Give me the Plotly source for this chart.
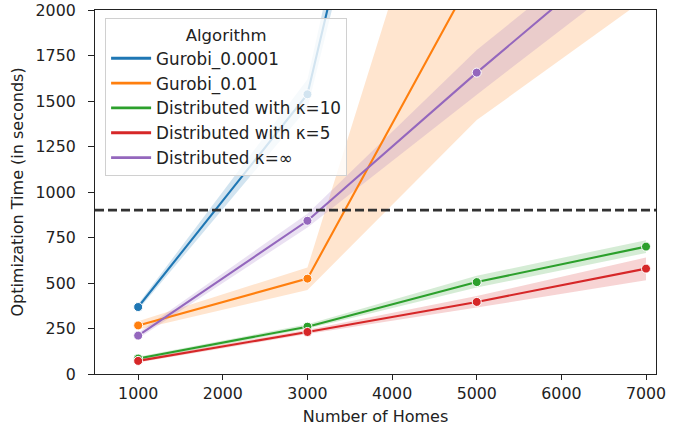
import plotly.graph_objects as go

# ---- data ----
homes = [1000, 3000, 5000, 7000]
x_ticks = [1000, 2000, 3000, 4000, 5000, 6000, 7000]
y_ticks = [0, 250, 500, 750, 1000, 1250, 1500, 1750, 2000]

series_names = ["Gurobi_0.0001", "Gurobi_0.01", "Distributed with κ=10",
                "Distributed with κ=5", "Distributed κ=∞"]

gurobi_0001_mean = [368, 1537, 5480, 9400]
gurobi_0001_lo = [352, 1460, 5200, 8900]
gurobi_0001_hi = [384, 1620, 5800, 9900]

gurobi_001_mean = [267, 524, 2225, 3800]
gurobi_001_lo = [245, 462, 1395, 2065]
gurobi_001_hi = [290, 585, 3560, 5500]

dist_k10_mean = [85, 260, 505, 700]
dist_k10_lo = [76, 248, 475, 665]
dist_k10_hi = [95, 273, 540, 735]

dist_k5_mean = [72, 231, 396, 579]
dist_k5_lo = [63, 220, 365, 515]
dist_k5_hi = [82, 243, 428, 640]

dist_kinf_mean = [211, 842, 1656, 2440]
dist_kinf_lo = [195, 805, 1535, 2250]
dist_kinf_hi = [227, 880, 1780, 2530]

threshold = 900

colors = ["#1f77b4", "#ff7f0e", "#2ca02c", "#d62728", "#9467bd"]
band_colors = ["rgba(31,119,180,0.2)", "rgba(255,127,14,0.2)", "rgba(44,160,44,0.2)",
               "rgba(214,39,40,0.2)", "rgba(148,103,189,0.2)"]

means = [gurobi_0001_mean, gurobi_001_mean, dist_k10_mean, dist_k5_mean, dist_kinf_mean]
los = [gurobi_0001_lo, gurobi_001_lo, dist_k10_lo, dist_k5_lo, dist_kinf_lo]
his = [gurobi_0001_hi, gurobi_001_hi, dist_k10_hi, dist_k5_hi, dist_kinf_hi]

fig = go.Figure()

# bands
for name, lo, hi, bc in zip(series_names, los, his, band_colors):
    fig.add_trace(go.Scatter(
        x=homes + homes[::-1], y=hi + lo[::-1], fill="toself", fillcolor=bc,
        line=dict(width=0), mode="lines", showlegend=False, hoverinfo="skip"))

# lines + markers
for name, m, c in zip(series_names, means, colors):
    fig.add_trace(go.Scatter(
        x=homes, y=m, mode="lines+markers", name=name,
        line=dict(color=c, width=2.1),
        marker=dict(size=9, color=c, line=dict(color="white", width=1)),
        showlegend=False))
for name, m, c in zip(series_names, means, colors):
    fig.add_trace(go.Scatter(
        x=[None], y=[None], mode="lines", name=name,
        line=dict(color=c, width=2.8)))

fig.add_shape(type="line", xref="paper", x0=0, x1=1, yref="y", y0=threshold, y1=threshold,
              line=dict(color="rgb(50,50,50)", width=2.7, dash="9px,4px"), layer="above")

fig.update_layout(
    width=695, height=432,
    margin=dict(l=95, r=39, t=10, b=58),
    paper_bgcolor="white", plot_bgcolor="white",
    font=dict(family="DejaVu Sans", size=14, color="#222"),
    showlegend=True,
    legend=dict(
        title=dict(text="Algorithm", side="top center", font=dict(size=16.5)),
        x=0.018, y=0.977, xanchor="left", yanchor="top",
        bgcolor="rgba(255,255,255,0.8)", bordercolor="#d0d0d0", borderwidth=1,
        font=dict(size=16.8), itemwidth=40, tracegroupgap=0,
    ),
    xaxis=dict(
        range=[490, 7118], tickvals=x_ticks, ticktext=[str(v) for v in x_ticks],
        showgrid=False, zeroline=False, showline=True, mirror=True, automargin=False,
        linecolor="#222", linewidth=1.2, ticks="outside", ticklen=5, tickwidth=1.1,
        tickcolor="#222", tickfont=dict(size=15.8),
        title=dict(text="Number of Homes", font=dict(size=16), standoff=8),
    ),
    yaxis=dict(
        range=[0, 2000], tickvals=y_ticks, ticktext=[str(v) for v in y_ticks],
        showgrid=False, zeroline=False, showline=True, mirror=True, automargin=False,
        linecolor="#222", linewidth=1.2, ticks="outside", ticklen=6, tickwidth=1.1,
        tickcolor="#222", tickfont=dict(size=15.8), ticklabelstandoff=9,
        title=dict(text="Optimization Time (in seconds)", font=dict(size=16), standoff=7),
    ),
)

fig.write_html("out.html", config={"displayModeBar": False},
               post_script="document.body.style.margin='0';")
